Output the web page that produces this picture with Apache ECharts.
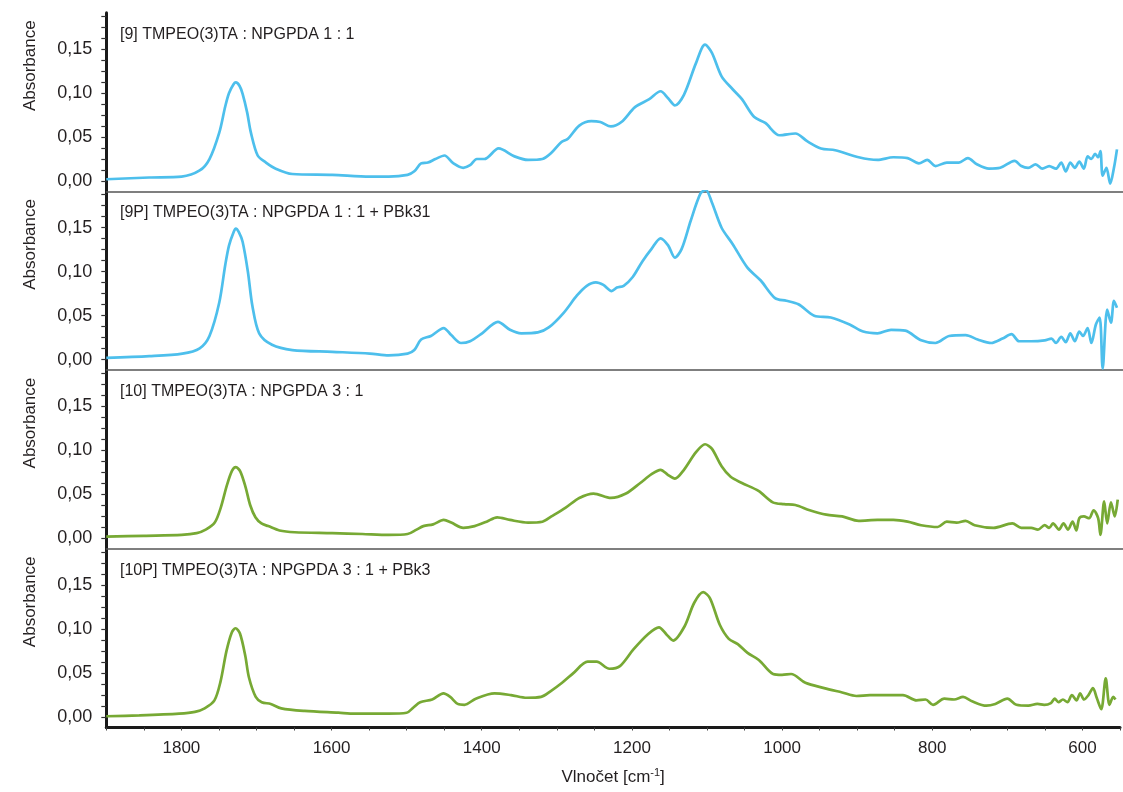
<!DOCTYPE html>
<html>
<head>
<meta charset="utf-8">
<script src="https://cdn.jsdelivr.net/npm/echarts@6/dist/echarts.min.js"></script>
<style>html,body{margin:0;padding:0;background:#fff}#c{width:1123px;height:792px}</style>
</head>
<body>
<div id="c"></div>
<script>
// ---- data ----
const panelTitles = [
  '[9] TMPEO(3)TA : NPGPDA 1 : 1',
  '[9P] TMPEO(3)TA : NPGPDA 1 : 1 + PBk31',
  '[10] TMPEO(3)TA : NPGPDA 3 : 1',
  '[10P] TMPEO(3)TA : NPGPDA 3 : 1 + PBk3'
];
const xTickLabels = [600, 800, 1000, 1200, 1400, 1600, 1800];
const yTickLabels = [0, 0.05, 0.10, 0.15];

const wn9 = [1900,1843,1800,1776,1763,1750,1742,1737,1731,1728,1723,1719,1713,1708,1699,1688,1675,1653,1600,1550,1525,1500,1491,1482,1473,1463,1451,1439,1426,1417,1408,1398,1379,1358,1340,1321,1309,1296,1287,1272,1256,1244,1230,1216,1198,1179,1164,1154,1145,1133,1117,1105,1096,1083,1068,1056,1040,1025,1006,985,969,951,932,901,876,855,836,821,810,799,784,768,756,744,728,713,694,685,676,666,657,648,639,632,626,620,614,608,602,597,592,587,583,580,577,572,567,562,558];
const abs9 = [0.002,0.004,0.005,0.012,0.025,0.055,0.085,0.100,0.110,0.112,0.108,0.099,0.078,0.055,0.029,0.021,0.014,0.008,0.007,0.005,0.005,0.007,0.011,0.020,0.021,0.025,0.029,0.020,0.015,0.018,0.025,0.025,0.037,0.028,0.024,0.025,0.032,0.044,0.048,0.063,0.068,0.067,0.062,0.067,0.084,0.093,0.102,0.094,0.086,0.098,0.134,0.155,0.146,0.119,0.104,0.093,0.073,0.066,0.052,0.054,0.045,0.037,0.035,0.027,0.024,0.027,0.026,0.020,0.024,0.017,0.021,0.021,0.026,0.019,0.014,0.015,0.023,0.017,0.015,0.019,0.014,0.017,0.014,0.021,0.011,0.021,0.015,0.022,0.014,0.028,0.025,0.031,0.027,0.034,0.006,0.015,-0.003,0.015,0.036];

const wn9P = [1900,1843,1799,1776,1763,1750,1742,1737,1731,1728,1724,1719,1712,1706,1697,1680,1653,1600,1550,1525,1500,1491,1482,1469,1452,1442,1429,1417,1401,1380,1364,1349,1327,1312,1293,1275,1262,1250,1240,1229,1222,1213,1201,1188,1176,1164,1154,1145,1136,1124,1111,1104,1096,1083,1068,1049,1031,1012,997,981,960,938,913,895,876,858,839,818,799,781,759,743,725,710,698,688,672,654,645,639,632,626,620,614,608,603,597,592,586,581,577,571,566,562,558];
const abs9P = [0.002,0.004,0.007,0.013,0.027,0.065,0.108,0.130,0.145,0.149,0.145,0.134,0.100,0.061,0.030,0.017,0.011,0.009,0.007,0.005,0.007,0.011,0.023,0.027,0.036,0.028,0.019,0.021,0.030,0.043,0.034,0.030,0.031,0.037,0.053,0.073,0.084,0.088,0.085,0.078,0.082,0.084,0.094,0.112,0.126,0.138,0.130,0.116,0.126,0.158,0.189,0.193,0.179,0.150,0.131,0.105,0.090,0.070,0.067,0.063,0.050,0.048,0.040,0.032,0.030,0.034,0.033,0.022,0.019,0.027,0.028,0.023,0.019,0.024,0.029,0.021,0.021,0.022,0.024,0.019,0.026,0.020,0.030,0.021,0.032,0.027,0.036,0.019,0.040,0.048,-0.010,0.057,0.042,0.067,0.059];

const wn10 = [1900,1850,1800,1780,1768,1756,1748,1740,1733,1728,1722,1715,1709,1702,1694,1685,1670,1650,1600,1560,1525,1500,1488,1479,1466,1452,1442,1426,1411,1395,1381,1364,1340,1321,1309,1290,1272,1253,1230,1210,1191,1176,1164,1154,1145,1133,1117,1105,1096,1083,1071,1056,1034,1015,1000,985,966,944,923,901,876,855,836,818,796,784,771,759,747,722,697,685,672,663,654,648,643,635,629,623,617,612,608,602,595,589,583,580,575,571,566,561,557];
const abs10 = [0.002,0.003,0.004,0.006,0.010,0.018,0.035,0.060,0.077,0.081,0.076,0.058,0.038,0.024,0.017,0.014,0.009,0.007,0.006,0.005,0.004,0.005,0.010,0.014,0.016,0.021,0.018,0.012,0.014,0.019,0.024,0.021,0.018,0.019,0.025,0.035,0.046,0.051,0.046,0.051,0.063,0.073,0.078,0.072,0.068,0.078,0.098,0.107,0.102,0.082,0.070,0.063,0.054,0.041,0.039,0.038,0.032,0.027,0.025,0.020,0.021,0.021,0.019,0.015,0.013,0.019,0.018,0.020,0.015,0.012,0.017,0.012,0.012,0.010,0.015,0.012,0.017,0.010,0.017,0.010,0.019,0.009,0.023,0.025,0.023,0.032,0.023,0.004,0.042,0.017,0.041,0.025,0.044];

const wn10P = [1900,1856,1803,1782,1769,1756,1748,1740,1733,1728,1722,1715,1710,1701,1693,1681,1667,1636,1591,1569,1525,1500,1491,1482,1466,1451,1442,1432,1423,1408,1383,1361,1340,1321,1309,1293,1278,1259,1247,1230,1216,1198,1179,1164,1154,1145,1130,1117,1105,1096,1083,1071,1059,1046,1031,1012,1000,988,969,944,920,901,883,858,839,821,809,799,784,771,759,747,728,716,700,688,672,660,651,642,637,632,626,620,614,608,603,598,592,586,581,575,569,564,559,556];
const abs10P = [0.001,0.002,0.004,0.006,0.010,0.019,0.040,0.075,0.096,0.101,0.095,0.070,0.045,0.023,0.017,0.015,0.010,0.007,0.005,0.004,0.004,0.005,0.011,0.017,0.020,0.027,0.023,0.015,0.014,0.021,0.027,0.025,0.022,0.023,0.029,0.039,0.050,0.063,0.063,0.055,0.058,0.077,0.094,0.102,0.094,0.087,0.103,0.130,0.142,0.135,0.105,0.089,0.083,0.073,0.065,0.049,0.048,0.049,0.039,0.033,0.028,0.024,0.025,0.025,0.025,0.019,0.020,0.014,0.021,0.020,0.023,0.018,0.013,0.015,0.021,0.014,0.013,0.015,0.014,0.016,0.021,0.017,0.020,0.017,0.025,0.019,0.027,0.020,0.025,0.033,0.022,0.009,0.044,0.014,0.023,0.020];

const seriesWn = [wn9, wn9P, wn10, wn10P];
const seriesAbs = [abs9, abs9P, abs10, abs10P];
const seriesColors = ['#4dbfec', '#4dbfec', '#77a934', '#77a934'];

// ---- layout ----
const FONT = 'Liberation Sans, Arial, Helvetica, sans-serif';
const gridLeft = 106.3, gridWidth = 1021.6, gridH = 178.7;
const gridTops = [12.7, 191.4, 370.1, 548.8];
const yMin = -0.0118, yMax = 0.1913;
const yMinorTicks = [];
for (let k = 0; k <= 15; k++) yMinorTicks.push(+(k * 0.0125).toFixed(4));

const grids = [], xAxes = [], yAxes = [], series = [], graphics = [];
for (let i = 0; i < 4; i++) {
  const last = i === 3;
  grids.push({left: gridLeft, top: gridTops[i], width: gridWidth, height: gridH, containLabel: false});
  xAxes.push({
    type: 'value', gridIndex: i, inverse: true, min: 550, max: 1900, interval: 50,
    axisLine: {show: true, onZero: false, lineStyle: {color: last ? '#1a1a1a' : '#555', width: last ? 3 : 1.5}},
    axisTick: {show: last, length: 3, lineStyle: {color: '#444', width: 1}},
    axisLabel: {show: last, margin: 12, fontSize: 17, color: '#231f20', fontFamily: FONT,
      formatter: v => (xTickLabels.indexOf(v) >= 0 ? String(v) : '')},
    splitLine: {show: false},
    name: last ? 'Vlnočet [cm{sup|-1}]' : '',
    nameLocation: 'middle', nameGap: 40,
    nameTextStyle: {fontSize: 17, color: '#231f20', fontFamily: FONT, lineHeight: 20,
      rich: {sup: {fontSize: 11, fontFamily: FONT, color: '#231f20', verticalAlign: 'top', lineHeight: 12}}}
  });
  yAxes.push({
    type: 'value', gridIndex: i, min: yMin, max: yMax,
    axisLine: {show: true, onZero: false, lineStyle: {color: '#1a1a1a', width: 3}},
    axisTick: {show: true, inside: false, length: 5, customValues: yMinorTicks, lineStyle: {color: '#333', width: 1.2}},
    axisLabel: {show: true, margin: 14, fontSize: 18, color: '#231f20', fontFamily: FONT,
      customValues: yTickLabels, formatter: v => v.toFixed(2).replace('.', ',')},
    splitLine: {show: false}
  });
  series.push({
    type: 'line', xAxisIndex: i, yAxisIndex: i, showSymbol: false, smooth: 0.3,
    data: seriesWn[i].map((w, j) => [w, seriesAbs[i][j]]),
    lineStyle: {color: seriesColors[i], width: 2.7}, itemStyle: {color: seriesColors[i]},
    animation: false
  });
  graphics.push({type: 'text', x: 120, y: gridTops[i] + 21.5,
    style: {text: panelTitles[i], font: '16px ' + FONT, fill: '#231f20', verticalAlign: 'middle', align: 'left'}});
  graphics.push({type: 'text', x: 30, y: gridTops[i] + 53, rotation: Math.PI / 2,
    style: {text: 'Absorbance', font: '17px ' + FONT, fill: '#231f20', verticalAlign: 'middle', align: 'center'}});
}

const chart = echarts.init(document.getElementById('c'), null, {renderer: 'canvas'});
chart.setOption({
  animation: false,
  backgroundColor: '#fff',
  grid: grids, xAxis: xAxes, yAxis: yAxes, series: series, graphic: graphics
});
</script>
</body>
</html>
